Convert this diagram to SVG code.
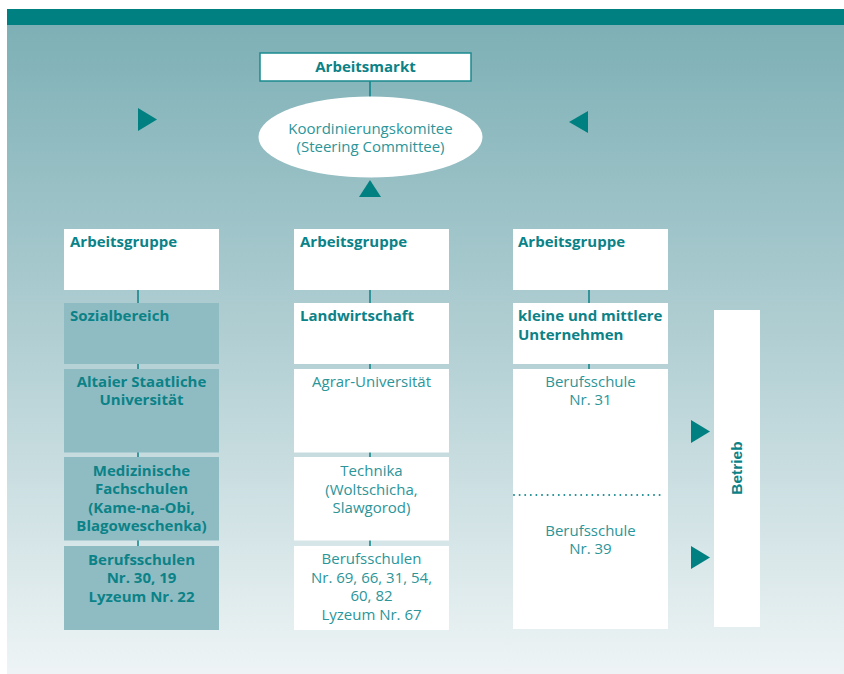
<svg xmlns="http://www.w3.org/2000/svg" width="844" height="674" viewBox="0 0 844 674">
  <defs>
    <linearGradient id="bg" x1="0" y1="0" x2="0" y2="1">
      <stop offset="0" stop-color="#7db0b6"/>
      <stop offset="0.5" stop-color="#b3d0d4"/>
      <stop offset="1" stop-color="#eef4f5"/>
    </linearGradient>
    <style>
      .box { fill: #ffffff; }
      .shade { fill: #8fbcc3; }
      .b { font-family: "Open Sans", "Liberation Sans", sans-serif; font-weight: bold; font-size: 15px; fill: #0b8287; }
      .r { font-family: "Open Sans", "Liberation Sans", sans-serif; font-size: 15px; fill: #2b9599; }
      .c { text-anchor: middle; }
      .link { stroke: #0b8287; stroke-width: 1.5; fill: none; }
      .tri { fill: #008080; }
    </style>
  </defs>

  <!-- backdrop and header band -->
  <rect x="0" y="0" width="844" height="674" fill="#ffffff"/>
  <rect x="7" y="25" width="837" height="649" fill="url(#bg)"/>
  <rect x="7" y="9" width="837" height="16" fill="#008080"/>

  <!-- connectors -->
  <g id="connectors">
    <line class="link" x1="370" y1="81" x2="370" y2="97"/>
    <line class="link" x1="138" y1="290" x2="138" y2="303"/>
    <line class="link" x1="138" y1="364" x2="138" y2="369"/>
    <line class="link" x1="138" y1="452" x2="138" y2="457"/>
    <line class="link" x1="138" y1="540" x2="138" y2="546"/>
    <line class="link" x1="370" y1="290" x2="370" y2="303"/>
    <line class="link" x1="370" y1="364" x2="370" y2="369"/>
    <line class="link" x1="370" y1="452" x2="370" y2="457"/>
    <line class="link" x1="370" y1="540" x2="370" y2="546"/>
    <line class="link" x1="589" y1="290" x2="589" y2="303"/>
    <line class="link" x1="589" y1="364" x2="589" y2="369"/>
    <polygon class="tri" points="138,108 157,119.5 138,131"/>
    <polygon class="tri" points="588,111 569,122 588,133"/>
    <polygon class="tri" points="359,197 370,180 381,197"/>
    <polygon class="tri" points="691,420 710,431.5 691,443"/>
    <polygon class="tri" points="691,546 710,557.5 691,569"/>
  </g>

  <g id="arbeitsmarkt">
    <rect x="260" y="53" width="211" height="28" fill="#ffffff" stroke="#1a8a8f" stroke-width="1.5"/>
    <text class="b c" x="365.5" y="72">Arbeitsmarkt</text>
  </g>

  <g id="komitee">
    <ellipse cx="370.5" cy="137" rx="112" ry="40.5" fill="#ffffff"/>
    <text class="r c" x="370.5" y="133.5">Koordinierungskomitee</text>
    <text class="r c" x="370.5" y="152">(Steering Committee)</text>
  </g>

  <!-- left column -->
  <g id="ag-sozial">
    <rect class="box" x="64" y="229" width="155" height="61"/>
    <text class="b" x="70" y="247">Arbeitsgruppe</text>
  </g>
  <g id="sozialbereich">
    <rect class="shade" x="64" y="303" width="155" height="61"/>
    <text class="b" x="70" y="321">Sozialbereich</text>
  </g>
  <g id="altaier">
    <rect class="shade" x="64" y="369" width="155" height="83.5"/>
    <text class="b c" x="141.5" y="386.5">Altaier Staatliche</text>
    <text class="b c" x="141.5" y="405">Universität</text>
  </g>
  <g id="medizinische">
    <rect class="shade" x="64" y="457" width="155" height="83.5"/>
    <text class="b c" x="141.5" y="475.5">Medizinische</text>
    <text class="b c" x="141.5" y="494">Fachschulen</text>
    <text class="b c" x="141.5" y="512.5">(Kame-na-Obi,</text>
    <text class="b c" x="141.5" y="531">Blagoweschenka)</text>
  </g>
  <g id="berufsschulen-links">
    <rect class="shade" x="64" y="546" width="155" height="84"/>
    <text class="b c" x="141.5" y="564.5">Berufsschulen</text>
    <text class="b c" x="141.5" y="583">Nr. 30, 19</text>
    <text class="b c" x="141.5" y="601.5">Lyzeum Nr. 22</text>
  </g>

  <!-- middle column -->
  <g id="ag-landwirtschaft">
    <rect class="box" x="294" y="229" width="155" height="61"/>
    <text class="b" x="300" y="247">Arbeitsgruppe</text>
  </g>
  <g id="landwirtschaft">
    <rect class="box" x="294" y="303" width="155" height="61"/>
    <text class="b" x="300" y="321">Landwirtschaft</text>
  </g>
  <g id="agrar">
    <rect class="box" x="294" y="369" width="155" height="83.5"/>
    <text class="r c" x="371.5" y="387">Agrar-Universität</text>
  </g>
  <g id="technika">
    <rect class="box" x="294" y="457" width="155" height="83.5"/>
    <text class="r c" x="371.5" y="475.5">Technika</text>
    <text class="r c" x="371.5" y="494.5">(Woltschicha,</text>
    <text class="r c" x="371.5" y="513">Slawgorod)</text>
  </g>
  <g id="berufsschulen-mitte">
    <rect class="box" x="294" y="546" width="155" height="84"/>
    <text class="r c" x="371.5" y="564">Berufsschulen</text>
    <text class="r c" x="371.5" y="582.5">Nr. 69, 66, 31, 54,</text>
    <text class="r c" x="371.5" y="601">60, 82</text>
    <text class="r c" x="371.5" y="619.5">Lyzeum Nr. 67</text>
  </g>

  <!-- right column -->
  <g id="ag-kmu">
    <rect class="box" x="513" y="229" width="155" height="61"/>
    <text class="b" x="518" y="247">Arbeitsgruppe</text>
  </g>
  <g id="kmu">
    <rect class="box" x="513" y="303" width="155" height="61"/>
    <text class="b" x="518" y="321">kleine und mittlere</text>
    <text class="b" x="518" y="339.5">Unternehmen</text>
  </g>
  <g id="berufsschulen-rechts">
    <rect class="box" x="513" y="369" width="155" height="260"/>
    <text class="r c" x="590.5" y="386.5">Berufsschule</text>
    <text class="r c" x="590.5" y="405">Nr. 31</text>
    <line x1="514" y1="495" x2="663" y2="495" stroke="#1a8a8f" stroke-width="2" stroke-linecap="round" stroke-dasharray="0 5.6"/>
    <text class="r c" x="590.5" y="535.5">Berufsschule</text>
    <text class="r c" x="590.5" y="554">Nr. 39</text>
  </g>

  <g id="betrieb">
    <rect class="box" x="714" y="310" width="46" height="317"/>
    <text transform="translate(742,468) rotate(-90)" text-anchor="middle" font-family="Liberation Sans, Arial, sans-serif" font-weight="bold" font-size="15.5" fill="#0b8287">Betrieb</text>
  </g>
</svg>
